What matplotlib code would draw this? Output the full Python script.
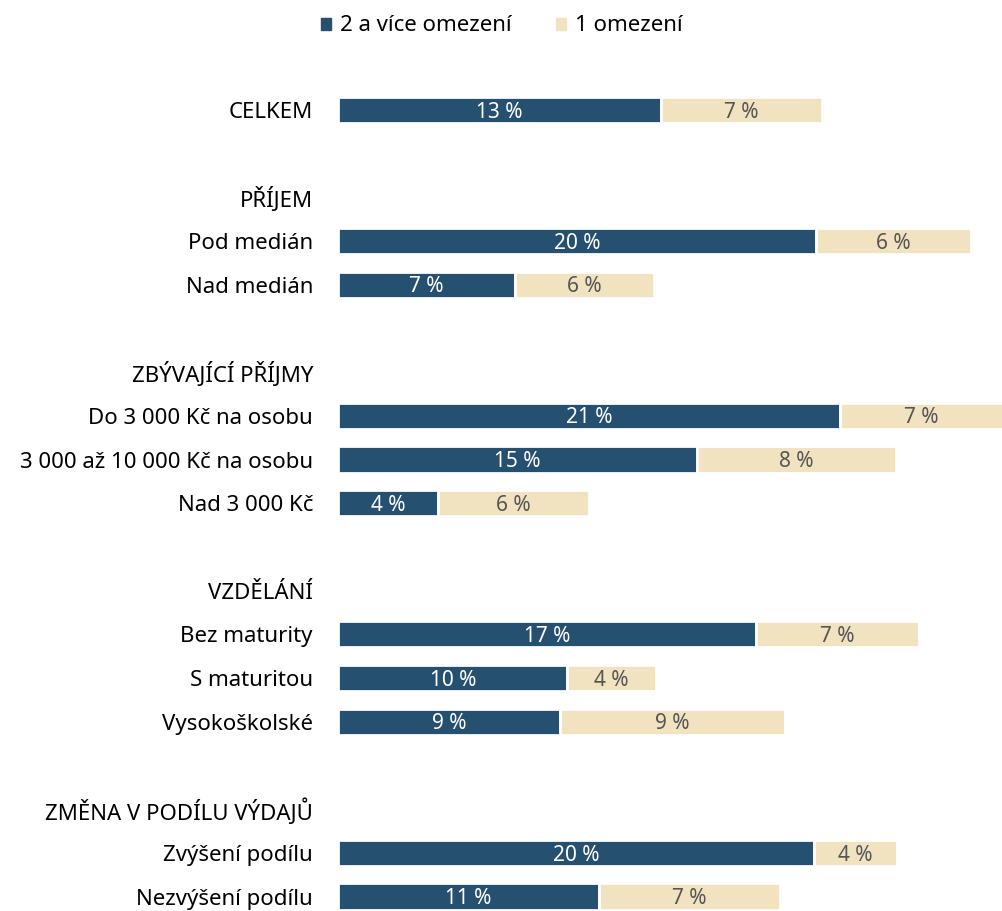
import matplotlib.pyplot as plt
from matplotlib.patches import Patch

plt.rcParams['font.family'] = ['Noto Sans', 'DejaVu Sans']

# Řádky grafu (prázdný řetězec = mezera, záhlaví skupin bez hodnot)
labels = ["CELKEM", "",
          "PŘÍJEM", "Pod medián", "Nad medián", "",
          "ZBÝVAJÍCÍ PŘÍJMY", "Do 3 000 Kč na osobu", "3 000 až 10 000 Kč na osobu", "Nad 3 000 Kč", "",
          "VZDĚLÁNÍ", "Bez maturity", "S maturitou", "Vysokoškolské", "",
          "ZMĚNA V PODÍLU VÝDAJŮ", "Zvýšení podílu", "Nezvýšení podílu"]

# 2 a více omezení (None = řádek bez sloupce)
dva_a_vice = [13.5, None,
              None, 20.0, 7.4, None,
              None, 21.0, 15.0, 4.2, None,
              None, 17.5, 9.6, 9.3, None,
              None, 19.9, 10.9]
dva_a_vice_txt = ["13 %", "", "", "20 %", "7 %", "", "", "21 %", "15 %", "4 %", "",
                  "", "17 %", "10 %", "9 %", "", "", "20 %", "11 %"]

# 1 omezení
jedno = [6.75, None,
         None, 6.5, 5.8, None,
         None, 6.8, 8.35, 6.3, None,
         None, 6.8, 3.7, 9.4, None,
         None, 3.5, 7.6]
jedno_txt = ["7 %", "", "", "6 %", "6 %", "", "", "7 %", "8 %", "6 %", "",
             "", "7 %", "4 %", "9 %", "", "", "4 %", "7 %"]

DARK = "#26506f"
LIGHT = "#f2e3c0"

fig = plt.figure(figsize=(10.03, 9.11), dpi=100)
ax = fig.add_axes([338 / 1003, 0.0, 1 - 338 / 1003, (911 - 88) / 911])

for i, (d, l) in enumerate(zip(dva_a_vice, jedno)):
    if d is None:
        continue
    ax.barh(i, d, height=0.6, color=DARK, edgecolor="white", linewidth=2)
    ax.barh(i, l, left=d, height=0.6, color=LIGHT, edgecolor="white", linewidth=2)
    ax.text(d / 2, i + 0.05, dva_a_vice_txt[i], ha="center", va="center", color="white", fontsize=15)
    ax.text(d + l / 2, i + 0.05, jedno_txt[i], ha="center", va="center", color="#555555", fontsize=15)

ax.set_ylim(18.33, -0.5)
ax.set_xlim(0, 27.82)
ax.set_yticks(range(len(labels)))
ax.set_yticklabels(labels, fontsize=16)
ax.tick_params(axis="y", length=0, pad=18)
ax.set_xticks([])
for s in ax.spines.values():
    s.set_visible(False)

handles = [Patch(color=DARK, label="2 a více omezení"), Patch(color=LIGHT, label="1 omezení")]
fig.legend(handles=handles, loc="upper center", bbox_to_anchor=(0.5, 1.005), ncol=2, frameon=False,
           fontsize=16, handlelength=0.45, handleheight=0.45, handletextpad=0.4, columnspacing=2.0)

fig.savefig("out.png", dpi=100)
